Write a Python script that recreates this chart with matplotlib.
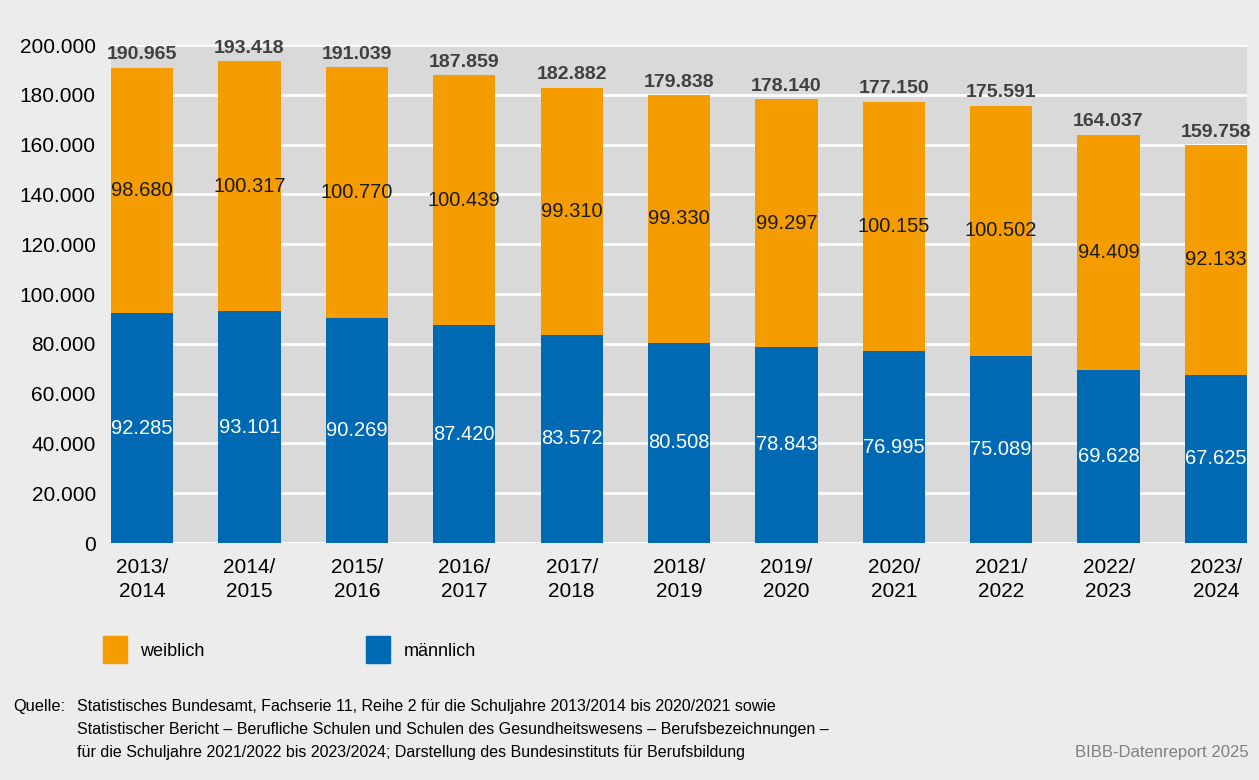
import matplotlib
matplotlib.use("Agg")
import matplotlib.pyplot as plt
import numpy as np
from matplotlib.patches import Rectangle
from matplotlib.ticker import FuncFormatter

plt.rcParams['font.family'] = ['Liberation Sans', 'DejaVu Sans']

# data
years = ['2013/\n2014', '2014/\n2015', '2015/\n2016', '2016/\n2017', '2017/\n2018',
         '2018/\n2019', '2019/\n2020', '2020/\n2021', '2021/\n2022', '2022/\n2023',
         '2023/\n2024']
maennlich = [92285, 93101, 90269, 87420, 83572, 80508, 78843, 76995, 75089, 69628, 67625]
weiblich = [98680, 100317, 100770, 100439, 99310, 99330, 99297, 100155, 100502, 94409, 92133]
gesamt = [190965, 193418, 191039, 187859, 182882, 179838, 178140, 177150, 175591, 164037, 159758]

orange = '#f59c00'
blue = '#0069b4'


def fmt(v):
    return f'{v:,.0f}'.replace(',', '.')


fig = plt.figure(figsize=(12.59, 7.8), dpi=100, facecolor='#ececec')
ax = fig.add_axes([0.0882, 0.3038, 0.9023, 0.6385])
ax.set_facecolor('#d9d9d9')

x = np.arange(len(years))
w = 0.58
ax.bar(x, maennlich, w, color=blue, zorder=3)
ax.bar(x, weiblich, w, bottom=maennlich, color=orange, zorder=3)

for i in range(len(years)):
    ax.text(x[i], maennlich[i] / 2, fmt(maennlich[i]), ha='center', va='center',
            color='white', fontsize=14.5, zorder=4)
    ax.text(x[i], maennlich[i] + weiblich[i] / 2, fmt(weiblich[i]), ha='center', va='center',
            color='#1a1a1a', fontsize=14.5, zorder=4)
    ax.text(x[i], gesamt[i] + 1800, fmt(gesamt[i]), ha='center', va='bottom',
            color='#404040', fontsize=14, fontweight='bold', zorder=4)

ax.set_xlim(-w / 2, len(years) - 1 + w / 2)
ax.set_ylim(0, 200000)
ax.set_yticks(np.arange(0, 200001, 20000))
ax.yaxis.set_major_formatter(FuncFormatter(lambda v, p: fmt(v)))
ax.set_xticks(x)
ax.set_xticklabels(years, fontsize=15, linespacing=1.3)
ax.tick_params(axis='y', labelsize=15, length=0, pad=11)
ax.tick_params(axis='x', length=0, pad=11)
ax.grid(axis='y', color='white', linewidth=2, zorder=1)
for s in ax.spines.values():
    s.set_visible(False)

# legend
fig.patches.append(Rectangle((103 / 1259, 1 - 663 / 780), 24 / 1259, 27 / 780,
                             transform=fig.transFigure, color=orange))
fig.text(140 / 1259, 1 - 651 / 780, 'weiblich', fontsize=13, va='center')
fig.patches.append(Rectangle((366 / 1259, 1 - 663 / 780), 24 / 1259, 27 / 780,
                             transform=fig.transFigure, color=blue))
fig.text(404 / 1259, 1 - 651 / 780, 'männlich', fontsize=13, va='center')

# source
fig.text(13 / 1259, 1 - 706 / 780, 'Quelle:', fontsize=11.8, va='center')
quelle = ['Statistisches Bundesamt, Fachserie 11, Reihe 2 für die Schuljahre 2013/2014 bis 2020/2021 sowie',
          'Statistischer Bericht – Berufliche Schulen und Schulen des Gesundheitswesens – Berufsbezeichnungen –',
          'für die Schuljahre 2021/2022 bis 2023/2024; Darstellung des Bundesinstituts für Berufsbildung']
for k, line in enumerate(quelle):
    fig.text(77 / 1259, 1 - (706 + 23.5 * k) / 780, line, fontsize=11.5, va='center')
fig.text(1249 / 1259, 1 - 753 / 780, 'BIBB-Datenreport 2025', fontsize=12,
         va='center', ha='right', color='#808080')

fig.savefig('out.png', dpi=100, facecolor=fig.get_facecolor())
